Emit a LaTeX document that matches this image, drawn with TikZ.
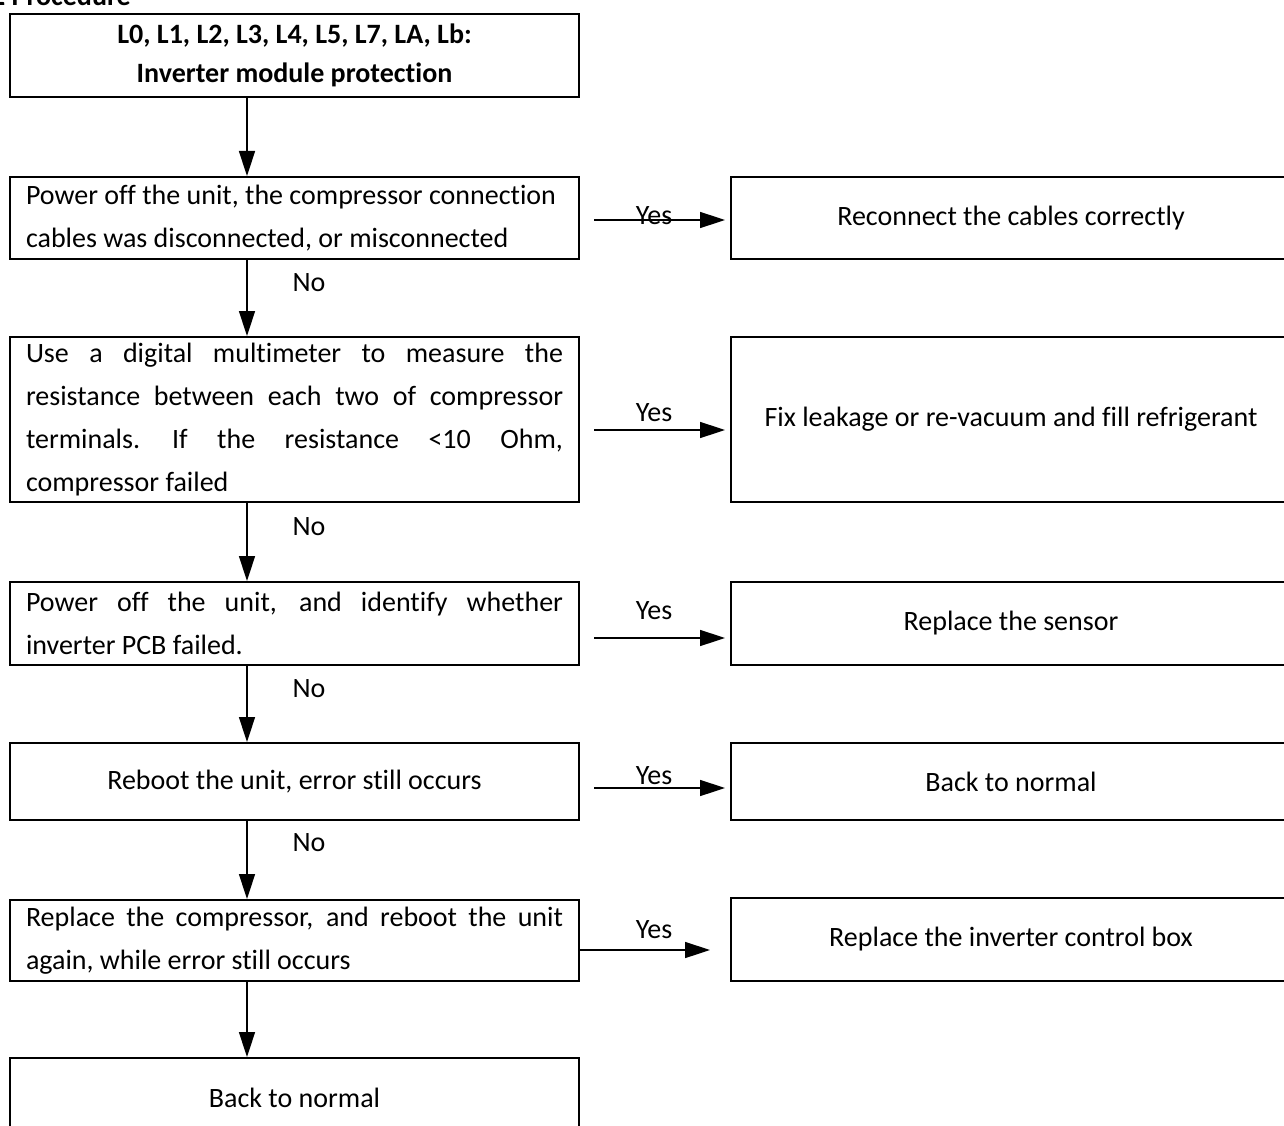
\documentclass[tikz,border=0pt]{standalone}
\usepackage{fontspec}
\setmainfont{Carlito}[Ligatures=NoCommon]
\usetikzlibrary{arrows.meta}
\newcommand\nsp{\spaceskip=0pt\xspaceskip=0pt\relax}
\newcommand\jline[1]{\leavevmode\hbox to 537pt{\spaceskip=\fontdimen2\font plus 1fil\relax\xspaceskip=1.4\fontdimen2\font plus 1fil\relax #1}}
\begin{document}
\begin{tikzpicture}[x=1pt,y=-1pt,
 box/.style={draw, line width=2pt, inner sep=0pt, font=\fontsize{28}{43}\selectfont},
 lbox/.style={box, minimum width=569pt, text width=537pt},
 cbox/.style={box, minimum width=569pt, align=center},
 rbox/.style={box, minimum width=560pt, align=center},
 arr/.style={line width=1.5pt, -{Triangle[length=25pt,width=16pt]}},
 lab/.style={font=\fontsize{28}{30}\selectfont, inner sep=0pt}]
\useasboundingbox (0,0) rectangle (1284,1126);
\clip (0,0) rectangle (1284,1126);
\node[anchor=base east, inner sep=0pt, font=\bfseries\fontsize{28}{30}\selectfont] (title) at (131,6) {5.2 Procedure};
% left column
\node[cbox, minimum height=83pt, font=\bfseries\fontsize{28}{39}\selectfont] (b0) at (294.5,55.5) {L0, L1, L2, L3, L4, L5, L7, LA, Lb:\\Inverter module protection};
\node[lbox, minimum height=82pt, align=left] (b1) at (294.5,218) {\nsp Power off the unit, the compressor connection\\cables was disconnected, or misconnected};
\node[lbox, minimum height=165pt, align=left] (b2) at (294.5,419.5) {\nsp\jline{Use a digital multimeter to measure the}\\\jline{resistance between each two of compressor}\\\jline{terminals. If the resistance <10 Ohm,}\\compressor failed};
\node[lbox, minimum height=83pt, align=left] (b3) at (294.5,623.5) {\nsp\jline{Power off the unit, and identify whether}\\inverter PCB failed.};
\node[cbox, minimum height=77pt] (b4) at (294.5,781.5) {Reboot the unit, error still occurs};
\node[lbox, minimum height=81pt, align=left] (b5) at (294.5,940.5) {\nsp\jline{Replace the compressor, and reboot the unit}\\again, while error still occurs};
\node[cbox, minimum height=80pt] (b6) at (294.5,1098) {Back to normal};
% right column
\node[rbox, minimum height=82pt] (r1) at (1011,218) {Reconnect the cables correctly};
\node[rbox, minimum height=165pt] (r2) at (1011,419.5) {Fix leakage or re-vacuum and fill refrigerant};
\node[rbox, minimum height=83pt] (r3) at (1011,623.5) {Replace the sensor};
\node[rbox, minimum height=77pt] (r4) at (1011,781.5) {Back to normal};
\node[rbox, minimum height=83pt] (r5) at (1011,939.5) {Replace the inverter control box};
% vertical arrows
\coordinate (ax) at (247,0);
\draw[arr] (b0.south -| ax) -- (b1.north -| ax);
\draw[arr] (b1.south -| ax) -- (b2.north -| ax);
\draw[arr] (b2.south -| ax) -- (b3.north -| ax);
\draw[arr] (b3.south -| ax) -- (b4.north -| ax);
\draw[arr] (b4.south -| ax) -- (b5.north -| ax);
\draw[arr] (b5.south -| ax) -- (b6.north -| ax);
\node[lab] (n1) at (309,283) {No};
\node[lab] (n2) at (309,527) {No};
\node[lab] (n3) at (309,689) {No};
\node[lab] (n4) at (309,843) {No};
% horizontal arrows
\coordinate (h1) at (594,220);
\coordinate (h2) at (594,430);
\coordinate (h3) at (594,638);
\coordinate (h4) at (594,788);
\coordinate (h5) at (579,950);
\draw[arr, shorten >=5pt] (h1) -- (h1 -| r1.west);
\draw[arr, shorten >=5pt] (h2) -- (h2 -| r2.west);
\draw[arr, shorten >=5pt] (h3) -- (h3 -| r3.west);
\draw[arr, shorten >=5pt] (h4) -- (h4 -| r4.west);
\draw[arr, shorten >=20pt] (b5.east |- h5) -- (h5 -| r5.west);
\node[lab] (y1) at (654,216) {Yes};
\node[lab] (y2) at (654,413) {Yes};
\node[lab] (y3) at (654,611) {Yes};
\node[lab] (y4) at (654,776) {Yes};
\node[lab] (y5) at (654,930) {Yes};
\end{tikzpicture}
\end{document}
